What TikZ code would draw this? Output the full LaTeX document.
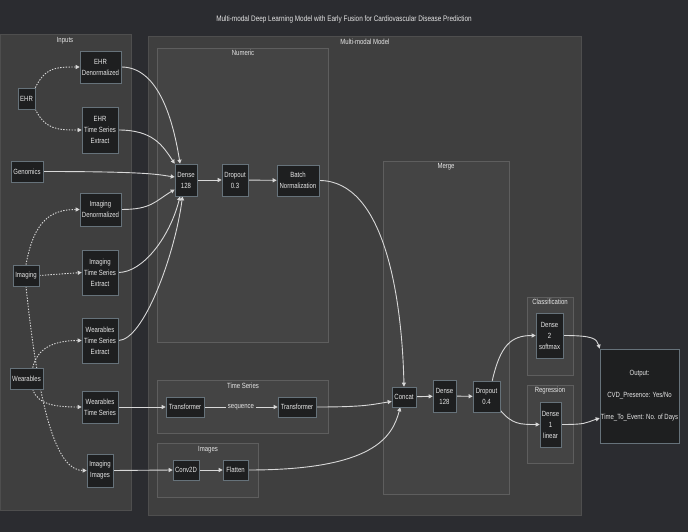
\documentclass[tikz,border=0pt]{standalone}
\usepackage{fontspec}
\setmainfont{Liberation Sans}[FakeStretch=0.8]
\usetikzlibrary{arrows.meta}
\pgfdeclarelayer{bg}
\pgfdeclarelayer{edges}
\pgfsetlayers{bg,edges,main}
\definecolor{bgc}{HTML}{2B2C30}
\definecolor{clf}{HTML}{3F3F3F}
\definecolor{clb}{HTML}{4E4E4E}
\definecolor{subf}{HTML}{444444}
\definecolor{subb}{HTML}{5E5E5E}
\definecolor{nodef}{HTML}{1E1F20}
\definecolor{nodeb}{HTML}{66727A}
\definecolor{txt}{HTML}{E6E6E6}
\definecolor{edgec}{HTML}{D8D8D8}
\newcommand{\nd}[6]{\node[box, minimum width=#4pt, minimum height=#5pt] (#1) at (#2,#3) {#6};}
\begin{document}
\begin{tikzpicture}[x=1pt,y=-1pt,
  box/.style={draw=nodeb, fill=nodef, text=txt, font=\fontsize{7.5}{11}\selectfont, align=center, inner sep=0pt, line width=0.6pt},
  cluster/.style={draw=clb, fill=clf, line width=0.6pt},
  subcl/.style={draw=subb, fill=subf, line width=0.6pt},
  cl/.style={text=txt, font=\fontsize{7.5}{9}\selectfont, inner sep=0pt},
  conn/.style={draw=edgec, line width=0.9pt, -{Triangle[length=4pt,width=4pt]}},
  dconn/.style={conn, dash pattern=on 1.4pt off 1.4pt}
]
\useasboundingbox (0,0) rectangle (688,532);
\begin{pgfonlayer}{bg}
\fill[bgc] (0,0) rectangle (688,532);
\draw[cluster] (0,34) rectangle (131,510);
\draw[cluster] (148,36) rectangle (581,515);
\draw[subcl] (157,48) rectangle (328,342);
\draw[subcl] (157,380) rectangle (328,433);
\draw[subcl] (157,443) rectangle (258,497);
\draw[subcl] (383,161) rectangle (509,494);
\draw[subcl] (527,297) rectangle (573,375);
\draw[subcl] (527,385) rectangle (573,463);
\end{pgfonlayer}

\node[cl, font=\fontsize{8}{10}\selectfont] (title) at (344,19) {Multi-modal Deep Learning Model with Early Fusion for Cardiovascular Disease Prediction};
\node[cl] (lInputs) at (65,41) {Inputs};
\node[cl] (lMM) at (365,42) {Multi-modal Model};
\node[cl] (lNum) at (243,53) {Numeric};
\node[cl] (lTS) at (243,386) {Time Series};
\node[cl] (lImg) at (208,450) {Images};
\node[cl] (lMerge) at (446,167) {Merge};
\node[cl] (lClass) at (550,302) {Classification};
\node[cl] (lReg) at (550,391) {Regression};

\nd{ehrd}{100.5}{67}{41}{32}{EHR\\Denormalized}
\nd{ehr}{26.5}{98.5}{17}{21}{EHR}
\nd{ehrts}{100}{130}{36}{46}{EHR\\Time Series\\Extract}
\nd{gen}{27}{171.5}{32}{21}{Genomics}
\nd{imgd}{100.5}{209.5}{41}{33}{Imaging\\Denormalized}
\nd{imgts}{100}{272.5}{36}{45}{Imaging\\Time Series\\Extract}
\nd{img}{26}{275.5}{26}{21}{Imaging}
\nd{wts}{100}{340.5}{36}{45}{Wearables\\Time Series\\Extract}
\nd{wear}{26.5}{378.5}{33}{21}{Wearables}
\nd{wtsb}{100}{407}{36}{32}{Wearables\\Time Series}
\nd{imgi}{100}{470.5}{26}{33}{Imaging\\Images}
\nd{dense}{186}{180}{22}{32}{Dense\\128}
\nd{drop}{235}{180}{26}{32}{Dropout\\0.3}
\nd{bn}{298}{180.5}{42}{31}{Batch\\Normalization}
\nd{tr1}{185}{407}{38}{20}{Transformer}
\nd{tr2}{297}{407}{38}{20}{Transformer}
\nd{conv}{186}{470}{26}{20}{Conv2D}
\nd{flat}{235.5}{470}{25}{20}{Flatten}
\nd{concat}{404}{397}{24}{20}{Concat}
\nd{dense2}{444.5}{396}{23}{32}{Dense\\128}
\nd{drop2}{486.5}{396.5}{27}{31}{Dropout\\0.4}
\nd{dsm}{549.5}{335.5}{27}{45}{Dense\\2\\softmax}
\nd{dlin}{550.5}{424.5}{21}{45}{Dense\\1\\linear}
\node[box, minimum width=79pt, minimum height=94pt] (out) at (639.5,396) {Output:\\[11pt]CVD\_Presence: Yes/No\\[11pt]Time\_To\_Event: No. of Days};

\begin{pgfonlayer}{edges}
\draw[dconn] (ehr.north east) .. controls +(10,-20) and +(-25,0) .. (ehrd.west);
\draw[dconn] (ehr.south east) .. controls +(10,20) and +(-25,0) .. (ehrts.west);
\draw[dconn] (img.north) .. controls +(8,-45) and +(-28,0) .. (imgd.west);
\draw[dconn] (img.east) -- (imgts.west);
\draw[dconn] (img.south) .. controls +(14,135) and +(-28,0) .. (imgi.west);
\draw[dconn] (wear.60) .. controls +(5,-22) and +(-24,0) .. (wts.west);
\draw[dconn] (wear.-60) .. controls +(5,16) and +(-24,0) .. (wtsb.west);

\draw[conn] (ehrd.east) .. controls +(35,0) and +(-8,-50) .. (dense.110);
\draw[conn] (ehrts.east) .. controls +(35,0) and +(-12,-18) .. (dense.north west);
\draw[conn] (gen.east) .. controls +(110,0) and +(-15,-2) .. (dense.165);
\draw[conn] (imgd.east) .. controls +(30,0) and +(-20,12) .. (dense.220);
\draw[conn] (imgts.east) .. controls +(25,0) and +(-10,40) .. (dense.250);
\draw[conn] (wts.east) .. controls +(25,0) and +(-8,60) .. (dense.258);
\draw[conn] (dense) -- (drop);
\draw[conn] (drop) -- (bn);
\draw[conn] (bn.east) .. controls +(66,0) and +(-2,-87) .. (concat.north);
\draw[conn] (wtsb.east) -- (tr1.west);
\draw[conn] (tr1) -- node[cl, fill=subf, inner sep=1.5pt] (seq) {sequence} (tr2);
\draw[conn] (tr2.east) .. controls +(50,0) and +(-20,3) .. (concat.200);
\draw[conn] (imgi.east) -- (conv.west);
\draw[conn] (conv) -- (flat);
\draw[conn] (flat.east) .. controls +(125,0) and +(-8,30) .. (concat.250);
\draw[conn] (concat) -- (dense2);
\draw[conn] (dense2) -- (drop2);
\draw[conn] (drop2.70) .. controls +(8,-35) and +(-25,0) .. (dsm.west);
\draw[conn] (drop2.-45) .. controls +(12,14) and +(-20,0) .. (dlin.west);
\draw[conn] (dsm.east) .. controls +(30,0) and +(-3,-10) .. (out.north west);
\draw[conn] (dlin.east) .. controls +(25,0) and +(-15,5) .. (out.209);
\end{pgfonlayer}
\end{tikzpicture}
\end{document}
